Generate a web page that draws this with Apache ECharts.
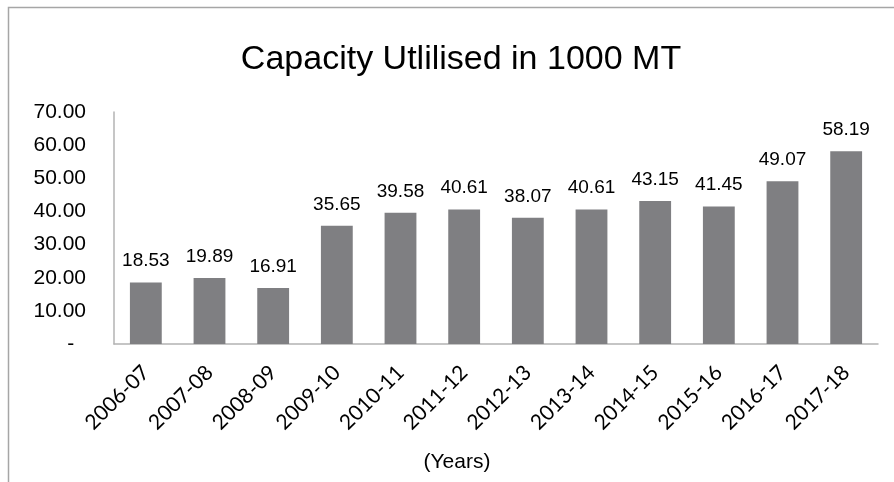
<!DOCTYPE html>
<html><head><meta charset="utf-8">
<script src="https://cdn.jsdelivr.net/npm/echarts@6/dist/echarts.min.js"></script>
<style>html,body{margin:0;padding:0;background:#fff}#c{width:894px;height:482px}</style>
</head><body><div id="c"></div>
<script>
const categories = ['2006-07','2007-08','2008-09','2009-10','2010-11','2011-12','2012-13','2013-14','2014-15','2015-16','2016-17','2017-18'];
const values = [18.53,19.89,16.91,35.65,39.58,40.61,38.07,40.61,43.15,41.45,49.07,58.19];
const yTicks = [0,10,20,30,40,50,60,70];
const titleText = 'Capacity Utlilised in 1000 MT';
const xName = '(Years)';

const chart = echarts.init(document.getElementById('c'), null, {renderer:'canvas'});
chart.setOption({
  animation:false,
  backgroundColor:'#fff',
  title:{text:titleText,left:456,textAlign:'center',top:38,textStyle:{fontFamily:'Liberation Sans, Arial',fontSize:34,fontWeight:'normal',color:'#000'}},
  graphic:[
    {type:'rect',shape:{x:8.5,y:7.5,width:1000,height:1000},style:{fill:'none',stroke:'#a6a6a6',lineWidth:1.5},silent:true,z:-1},
    {type:'text',x:457,y:462,style:{text:xName,fontFamily:'Liberation Sans, Arial',fontSize:21,fill:'#000',align:'center',verticalAlign:'middle'}}
  ],
  grid:{left:114,right:16,top:112,bottom:138,containLabel:false},
  xAxis:{type:'category',data:categories,
    axisLine:{lineStyle:{color:'#b3b3b3',width:1.5}},axisTick:{show:false},
    axisLabel:{rotate:45,interval:0,fontFamily:'Lato, Open Sans',fontSize:21,color:'#000',margin:25}},
  yAxis:{type:'value',min:0,max:70,interval:10,
    axisLine:{show:true,lineStyle:{color:'#b3b3b3',width:1.5}},axisTick:{show:false},splitLine:{show:false},
    axisLabel:{fontFamily:'Liberation Sans, Arial',fontSize:21,color:'#000',margin:28,
      formatter:v=>v===0?'-  ':v.toFixed(2)}},
  series:[{type:'bar',data:values,barWidth:'50%',itemStyle:{color:'#7f7f82'},
    label:{show:true,position:'top',distance:12,fontFamily:'Liberation Sans, Arial',fontSize:19,color:'#000',formatter:p=>p.value.toFixed(2)}}]
});
</script></body></html>
